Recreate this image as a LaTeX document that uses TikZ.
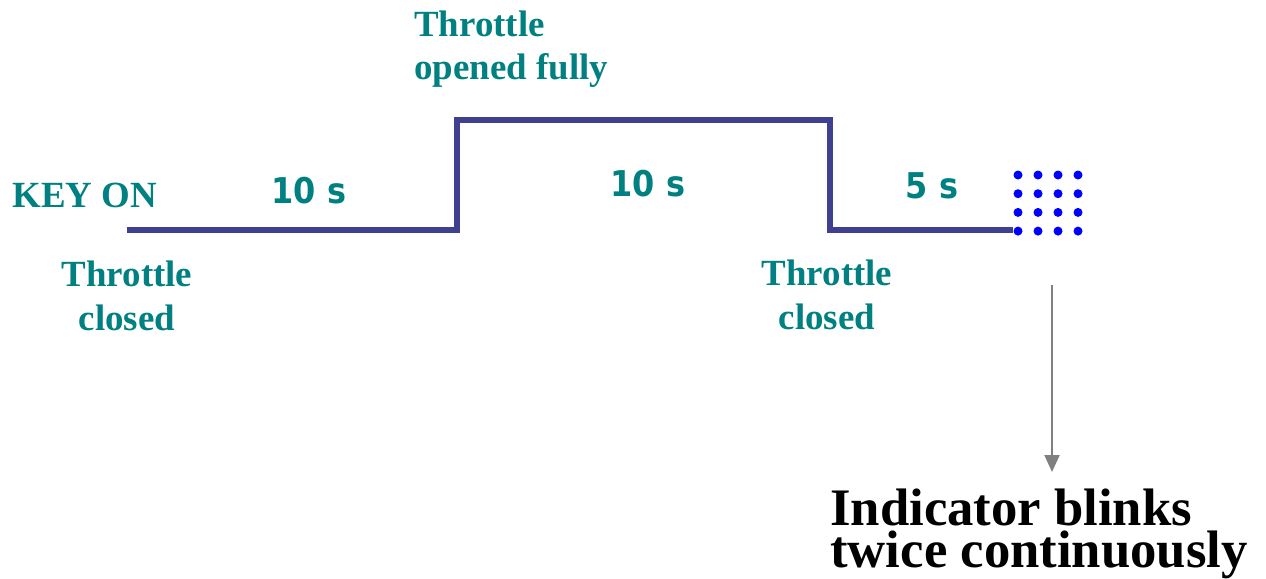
\documentclass[tikz,border=0pt]{standalone}
\usepackage{fontspec}
\setmainfont{Liberation Serif}
\newfontfamily\durfont{DejaVu Sans Condensed}
\usetikzlibrary{arrows.meta}
\definecolor{labelteal}{HTML}{008080}
\definecolor{pulseblue}{HTML}{404090}
\begin{document}
\begin{tikzpicture}[
    x=0.02cm, y=-0.02cm,
    state/.style={text=labelteal, font=\fontsize{21}{24.5}\selectfont\bfseries, align=center, inner sep=0, anchor=north},
    dur/.style={text=labelteal, font=\durfont\fontsize{20.2}{24}\selectfont\bfseries, inner sep=0, anchor=base},
    pulse/.style={draw=pulseblue, line width=0.12cm},
    blink/.style={fill=blue},
    note/.style={font=\fontsize{30}{23.8}\selectfont\bfseries, align=left, inner sep=0, anchor=north west},
    arrow/.style={-{Triangle[length=0.34cm, width=0.3cm]}, draw=gray, fill=gray, line width=0.04cm}
]
    \useasboundingbox (0,0) rectangle (1266,578);

    % Throttle states
    \node[state, anchor=base west] (keyon) at (12,207) {KEY ON};
    \node[state] (closedA) at (127,261) {Throttle\\closed};
    \node[state, align=left, anchor=north west] (opened) at (414,11) {Throttle\\opened fully};
    \node[state] (closedB) at (827,260) {Throttle\\closed};

    % Durations
    \node[dur] (durA) at (309,203) {10 s};
    \node[dur] (durB) at (648,196) {10 s};
    \node[dur] (durC) at (932,198) {5 s};

    % Throttle level
    \draw[pulse] (127,230) -- (457,230) -- (457,120) -- (830,120) -- (830,230) -- (1013,230);

    % Blinks
    \foreach \col in {0,...,3}
        \foreach \row in {0,...,3}
            \fill[blink] (1018+20*\col, 175+18.7*\row) circle[radius=0.09cm];

    % Indicator
    \coordinate (blinkend) at (1052,285);
    \node[note] (note) at (830,489) {Indicator blinks\\twice continuously};
    \draw[arrow, shorten >=0.34cm] (blinkend) -- (blinkend |- note.north);
\end{tikzpicture}
\end{document}
